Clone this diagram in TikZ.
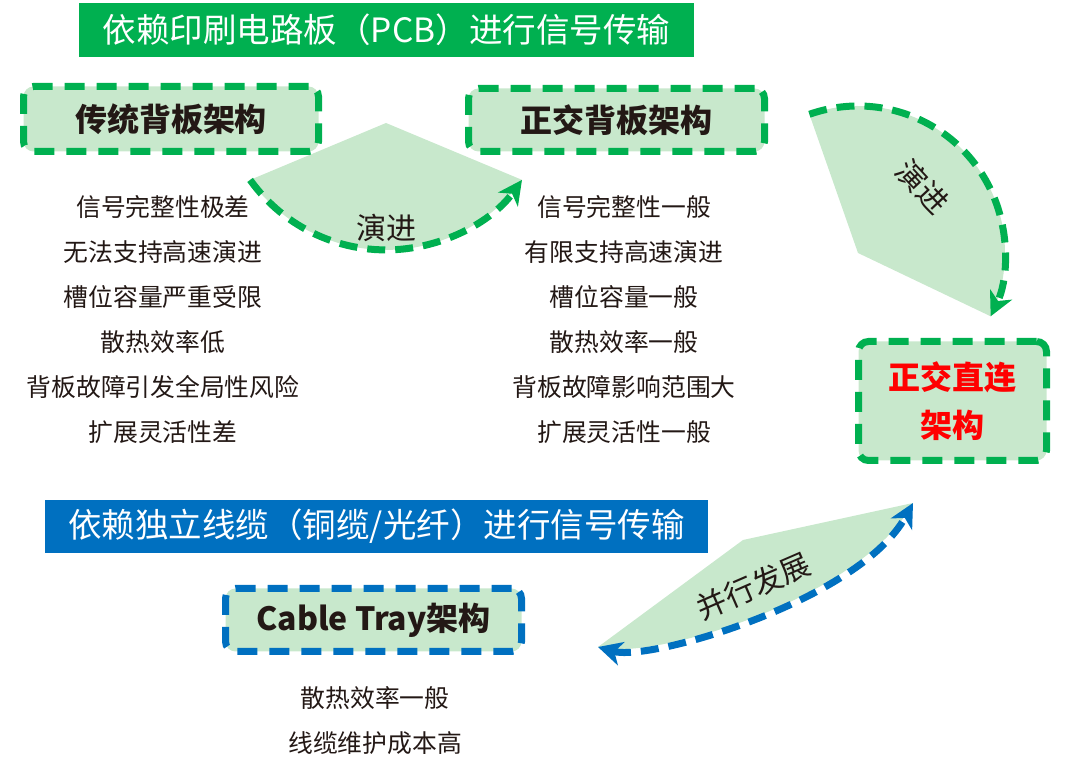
\documentclass[tikz,border=0pt]{standalone}
\usepackage{fontspec}
\usepackage{xcolor}
\usepackage{tikz}
\usetikzlibrary{arrows.meta}
\setmainfont{Noto Sans CJK SC}
\definecolor{pcbgreen}{RGB}{0,176,80}
\definecolor{cableblue}{RGB}{0,112,192}
\definecolor{palegreen}{RGB}{200,232,204}
\definecolor{inkdark}{RGB}{35,24,21}

\begin{document}
\begin{tikzpicture}[
  x=1pt, y=1pt,
  every node/.style={text=inkdark, inner sep=0pt},
  banner/.style={fill=#1, text=white, minimum height=54pt, font=\fontsize{33.5}{34}\selectfont},
  archbox/.style={draw=#1, fill=palegreen, line width=7pt, dash pattern=on 20pt off 12pt, rounded corners=10pt, font=\fontsize{32}{48}\selectfont\bfseries, align=center},
  traits/.style={font=\fontsize{24.8}{45}\selectfont, align=center},
  fan/.style={fill=palegreen},
  flow/.style={draw=#1, line width=7pt, dash pattern=on 18pt off 10pt},
  fanlabel/.style={font=\fontsize{30}{30}\selectfont}
]
  \useasboundingbox (0,0) rectangle (1080,776);

  % Fan ends (arc start / tip points)
  \coordinate (evoAstart) at (250.1,596.1);
  \coordinate (evoBstart) at (809.4,661.7);
  \coordinate (parL) at (598,129);
  \coordinate (parR) at (913,273);

  % Fans behind the boxes
  \fill[fan] (386,653) -- (evoAstart) arc[start angle=215.5, end angle=324.5, radius=167] -- cycle;
  \fill[fan] (858,523) -- (evoBstart) arc[start angle=109.3, end angle=-25.5, radius=147] -- cycle;
  \fill[fan] (parL) -- (743,236) -- (parR) .. controls (860,176) and (650,114) .. (parL) -- cycle;

  % Dashed evolution arcs
  \draw[flow=pcbgreen, -{Stealth[length=24pt, width=24pt, inset=7pt]}] (evoAstart) arc[start angle=215.5, end angle=324.5, radius=167];
  \draw[flow=pcbgreen, -{Stealth[length=24pt, width=24pt, inset=7pt]}] (evoBstart) arc[start angle=109.3, end angle=-25.5, radius=147];
  \draw[flow=cableblue, {Stealth[length=24pt, width=24pt, inset=7pt]}-{Stealth[length=24pt, width=24pt, inset=7pt]}] (parL) .. controls (650,114) and (860,176) .. (parR);

  \node[fanlabel] (evolabelA) at (386,548) {演进};
  \node[fanlabel, rotate=-47] (evolabelB) at (922.5,589) {演进};
  \node[fanlabel, rotate=23.4] (parlabel) at (753.5,190) {并行发展};

  % Banners
  \node[banner=pcbgreen, minimum width=615pt] (pcbbar) at (386.5,746) {依赖印刷电路板（PCB）进行信号传输};
  \node[banner=cableblue, minimum width=663pt, minimum height=53pt] (cablebar) at (376.5,249.5) {依赖独立线缆（铜缆/光纤）进行信号传输};

  % Architecture boxes
  \node[archbox=pcbgreen, minimum width=295pt, minimum height=65pt] (legacy) at (171,657) {传统背板架构};
  \node[archbox=pcbgreen, minimum width=296pt, minimum height=63pt] (ortho) at (616.5,656) {正交背板架构};
  \node[archbox=pcbgreen, minimum width=188pt, minimum height=119pt, text=red] (direct) at (952.5,375) {正交直连\\架构};
  \node[archbox=cableblue, minimum width=296pt, minimum height=63pt] (tray) at (373.5,156) {Cable Tray架构};

  % Trait lists
  \node[traits] (legacytraits) at (163,456.5) {信号完整性极差\\无法支持高速演进\\槽位容量严重受限\\散热效率低\\背板故障引发全局性风险\\扩展灵活性差};
  \node[traits] (orthotraits) at (624,456.5) {信号完整性一般\\有限支持高速演进\\槽位容量一般\\散热效率一般\\背板故障影响范围大\\扩展灵活性一般};
  \node[traits] (traytraits) at (375,55.5) {散热效率一般\\线缆维护成本高};

\end{tikzpicture}
\end{document}
